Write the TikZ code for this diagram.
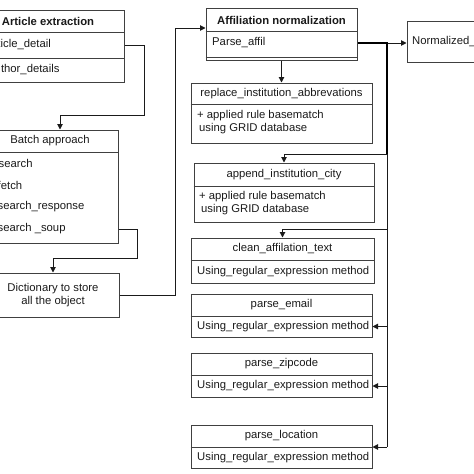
\documentclass[tikz,border=0pt]{standalone}
\usepackage{fontspec}
\setmainfont{Liberation Sans}
\usetikzlibrary{arrows.meta,fit,calc}

\definecolor{boxgray}{HTML}{404040}
\definecolor{inkgray}{HTML}{1A1A1A}
\def\labelfont{\fontsize{11.3}{12.5}\selectfont}

\tikzset{
  box/.style={draw=boxgray, line width=1pt, inner sep=0pt},
  head/.style={inner sep=0pt, font=\labelfont},
  bold/.style={inner sep=0pt, font=\labelfont\bfseries},
  item/.style={anchor=west, inner sep=0pt, align=left, font=\labelfont},
  wire/.style={draw=inkgray, line width=1pt},
  link/.style={wire, -{Triangle[length=5.5pt,width=5.5pt]}},
  trunk/.style={draw=black, line width=2.4pt},
}

% class box: name, left, top, right, bottom (picture coordinates, y down)
\newcommand\umlbox[5]{\node[box, fit={(#2,#3) (#4,#5)}] (#1) {};}
% compartment line of a class box at height #2
\newcommand\umlsep[2]{\draw[box] (#1.west |- 0,#2) -- (#1.east |- 0,#2);}

\begin{document}
\begin{tikzpicture}[x=1pt, y=-1pt, text=inkgray]
\clip (0,0) rectangle (474,474);

% left column
\umlbox{art}{-27}{10}{124}{82}
\umlsep{art}{32} \umlsep{art}{58}
\node[bold] (arthead) at (48,21) {Article extraction};
\node[item] (artdetail) at (-14,45) {Article\_detail};
\node[item] (authdetail) at (-13,70) {Author\_details};
%
\umlbox{batch}{-18}{130}{118}{243}
\umlsep{batch}{152}
\node[head] (batchhead) at (50,141) {Batch approach};
\node[item] (esearch) at (-9,163) {Esearch};
\node[item] (efetch) at (-10,185) {Efetch};
\node[item] (eresp) at (-10,207) {Esearch\_response};
\node[item] (esoup) at (-10,229) {Esearch \_soup};
%
\umlbox{dict}{-14}{273}{119}{317}
\node[head, align=center] (dicttext) at (53,295) {Dictionary to store\\all the object};

% right column
\umlbox{affil}{206}{8}{357}{60}
\umlsep{affil}{31} \umlsep{affil}{57}
\node[bold] (affilhead) at (281.5,20) {Affiliation normalization};
\node[item] (parse) at (212,43) {Parse\_affil};
%
\umlbox{norm}{407}{21}{530}{62}
\node[item] (normtext) at (412,42) {Normalized\_affiliation};
%
\umlbox{repl}{191}{83}{372}{143}
\umlsep{repl}{104}
\node[head] (replhead) at (281.5,94) {replace\_institution\_abbrevations};
\node[item] (replbody) at (197,122) {+ applied rule basematch\\\hspace{2pt}using GRID database};
%
\umlbox{app}{194}{163}{374}{222}
\umlsep{app}{186}
\node[head] (apphead) at (284,175) {append\_institution\_city};
\node[item] (appbody) at (199,203) {+ applied rule basematch\\\hspace{2pt}using GRID database};
%
\umlbox{clean}{191}{238}{374}{283}
\umlsep{clean}{260}
\node[head] (cleanhead) at (282.5,249) {clean\_affilation\_text};
\node[item] (cleanbody) at (197,271.5) {Using\_regular\_expression method};
%
\umlbox{email}{191}{294}{372}{337}
\umlsep{email}{316}
\node[head] (emailhead) at (281.5,305) {parse\_email};
\node[item] (emailbody) at (197,326.5) {Using\_regular\_expression method};
%
\umlbox{zip}{191}{353}{372}{397}
\umlsep{zip}{375}
\node[head] (ziphead) at (281.5,364) {parse\_zipcode};
\node[item] (zipbody) at (197,386) {Using\_regular\_expression method};
%
\umlbox{loc}{191}{425}{372}{468}
\umlsep{loc}{447}
\node[head] (lochead) at (281.5,436) {parse\_location};
\node[item] (locbody) at (197,457.5) {Using\_regular\_expression method};

% connectors on the left
\draw[link] (art.east |- artdetail) -| ++(20,70) -| (batch.north -| 60,0);
\draw[link] (batch.east |- esoup) -| ++(19,29) -| (dict.north -| 53,0);
\draw[link] (dict.east) -- ++(56,0) |- (affil.west |- 0,28);

% trunk on the right
\coordinate (split) at (387,43);
\coordinate (tap1) at (387,154);
\coordinate (tap2) at (387,229);
\coordinate (trunkend) at (387,447);
\draw[link] (affil.south) -- (affil.south |- repl.north);
\draw[link] (split) -- (norm.west |- split);
\draw[wire] (tap1) -- (trunkend);
\draw[trunk] (affil.east |- split) -- (split) -- (tap1);
\draw[link] (tap1) -| (app.north);
\draw[link] (tap2) -| (clean.north);
\draw[link] (trunkend |- emailbody) -- (email.east |- emailbody);
\draw[link] (trunkend |- zipbody) -- (zip.east |- zipbody);
\draw[link] (trunkend) -- (loc.east |- trunkend);
\end{tikzpicture}
\end{document}
